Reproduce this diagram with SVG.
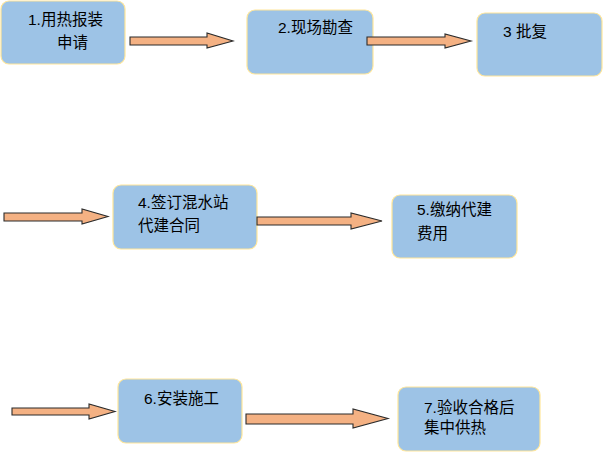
<svg xmlns="http://www.w3.org/2000/svg" width="604" height="452" viewBox="0 0 604 452">
<style>
.box{fill:#9DC3E6;stroke:#FFE699;stroke-width:1.2}
.arr{fill:#F4B183;stroke:#2b2b2b;stroke-width:1.1;stroke-linejoin:miter}
text{font-family:"Liberation Sans","Noto Sans CJK SC",sans-serif;font-size:15.5px;fill:#000}
</style>
<rect width="604" height="452" fill="#fff"/>
<g id="n1"><rect class="box" x="1" y="1" width="124" height="63" rx="8"/>
<text x="28" y="25">1.用热报装</text><text x="57" y="48">申请</text></g>
<g id="n2"><rect class="box" x="247" y="10" width="126" height="64" rx="8"/>
<text x="278" y="33">2.现场勘查</text></g>
<g id="n3"><rect class="box" x="477" y="13" width="125" height="63" rx="8"/>
<text x="503" y="37">3 批复</text></g>
<g id="n4"><rect class="box" x="113" y="185" width="144" height="64" rx="8"/>
<text x="138" y="208">4.签订混水站</text><text x="138" y="231">代建合同</text></g>
<g id="n5"><rect class="box" x="392" y="195" width="125" height="63" rx="8"/>
<text x="417" y="215">5.缴纳代建</text><text x="417" y="239">费用</text></g>
<g id="n6"><rect class="box" x="118" y="379" width="124" height="64" rx="8"/>
<text x="144" y="404">6.安装施工</text></g>
<g id="n7"><rect class="box" x="398" y="387" width="142" height="64" rx="8"/>
<text x="424" y="413">7.验收合格后</text><text x="424" y="433">集中供热</text></g>
<g id="connectors">
<polygon class="arr" points="130,37 207,37 207,33 233,41 207,48 207,45 130,45"/>
<polygon class="arr" points="367,37 445,37 445,34 471,41 445,48 445,45 367,45"/>
<polygon class="arr" points="4,213 82,213 82,209 108,216.5 82,224 82,221 4,221"/>
<polygon class="arr" points="257,217 351,217 351,213 382,221 351,229 351,225 257,225"/>
<polygon class="arr" points="12,408 89,408 89,404 115,411.5 89,419 89,415 12,415"/>
<polygon class="arr" points="246,414 353,414 353,409 388,418.5 353,428 353,424 246,424"/>
</g>
</svg>
